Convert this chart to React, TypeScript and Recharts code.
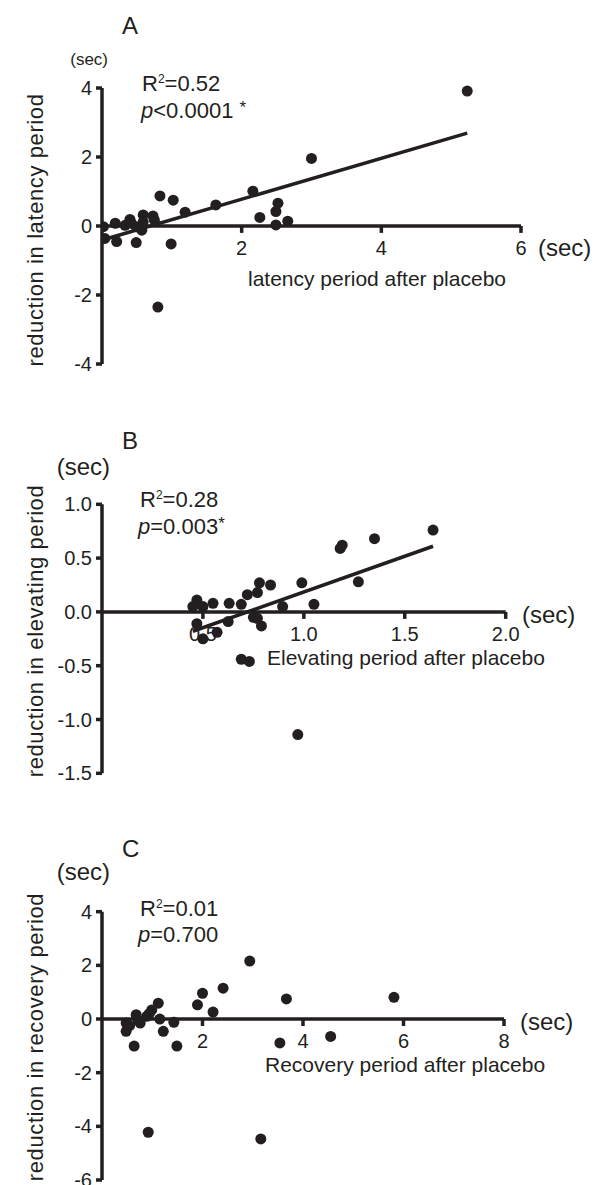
import React from 'react';
import { ScatterChart, Scatter, XAxis, YAxis, ReferenceLine } from 'recharts';

const INK = '#231f20';
const FONT = '"Liberation Sans", Arial, Helvetica, sans-serif';

// ---- Panel A: latency period ----
const latencyX = [0.02, 0.04, 0.19, 0.21, 0.33, 0.40, 0.42, 0.49, 0.49, 0.57, 0.59, 0.59, 0.73, 0.75, 0.83, 0.99, 1.02, 1.19, 1.63, 0.80, 2.16, 2.26, 2.49, 2.52, 2.49, 2.66, 3.00, 5.23];
const latencyY = [-0.02, -0.36, 0.08, -0.45, 0.02, 0.19, 0.08, -0.02, -0.48, -0.12, 0.32, 0.12, 0.29, 0.17, 0.87, -0.52, 0.75, 0.40, 0.61, -2.35, 1.01, 0.25, 0.42, 0.66, 0.03, 0.14, 1.96, 3.91];
const latencyFitX = [0.03, 5.23];
const latencyFitY = [-0.39, 2.69];
const latencyXTicks = [2, 4, 6];
const latencyYTicks = [-4, -2, 0, 2, 4];

// ---- Panel B: elevating period ----
const elevX = [0.45, 0.47, 0.50, 0.47, 0.50, 0.57, 0.55, 0.63, 0.625, 0.69, 0.72, 0.77, 0.78, 0.835, 0.75, 0.77, 0.79, 0.895, 0.69, 0.73, 0.97, 0.99, 1.05, 1.18, 1.19, 1.27, 1.35, 1.64];
const elevY = [0.05, 0.11, 0.05, -0.11, -0.25, -0.19, 0.08, 0.08, -0.09, 0.07, 0.16, 0.18, 0.27, 0.25, -0.05, -0.06, -0.13, 0.05, -0.44, -0.46, -1.14, 0.27, 0.07, 0.59, 0.62, 0.28, 0.68, 0.76];
const elevFitX = [0.45, 1.64];
const elevFitY = [-0.18, 0.61];
const elevXTicks = [0.5, 1.0, 1.5, 2.0];
const elevYTicks = [-1.5, -1.0, -0.5, 0.0, 0.5, 1.0];

// ---- Panel C: recovery period ----
const recovX = [0.48, 0.48, 0.55, 0.64, 0.68, 0.72, 0.76, 0.89, 0.94, 0.99, 1.12, 1.15, 1.22, 1.43, 1.49, 0.92, 1.90, 2.00, 2.21, 2.41, 2.94, 3.16, 3.54, 3.67, 4.55, 5.81];
const recovY = [-0.46, -0.15, -0.25, -1.01, 0.16, -0.05, -0.15, 0.10, 0.20, 0.34, 0.59, 0.00, -0.46, -0.12, -1.01, -4.22, 0.53, 0.96, 0.26, 1.15, 2.16, -4.47, -0.89, 0.75, -0.65, 0.81];
const recovXTicks = [2, 4, 6, 8];
const recovYTicks = [-6, -4, -2, 0, 2, 4];

const zip = (xs: number[], ys: number[]) => xs.map((x, i) => ({ x, y: ys[i] }));

const Dot = (p: any) => <circle cx={p.cx} cy={p.cy} r={5.5} fill={INK} />;

type PanelProps = {
  top: number;
  height: number;
  margin: { top: number; right: number; bottom: number; left: number };
  xDomain: [number, number];
  yDomain: [number, number];
  xTicks: number[];
  yTicks: number[];
  fmt: (v: number) => string;
  data: { x: number; y: number }[];
  fit?: { x: number; y: number }[];
  tickLen: number;
};

function Panel({ top, height, margin, xDomain, yDomain, xTicks, yTicks, fmt, data, fit, tickLen }: PanelProps) {
  return (
    <div style={{ position: 'absolute', left: 0, top, width: 597, height }}>
      <ScatterChart width={597} height={height} margin={margin}>
        <XAxis type="number" dataKey="x" domain={xDomain} hide allowDataOverflow />
        <YAxis
          type="number"
          dataKey="y"
          domain={yDomain}
          ticks={yTicks}
          interval={0}
          width={102}
          tickFormatter={fmt}
          axisLine={{ stroke: INK, strokeWidth: 3.5 }}
          tickLine={{ stroke: INK, strokeWidth: 3.5 }}
          tickSize={6}
          tickMargin={4}
          tick={{ fill: INK, fontSize: 20, fontFamily: FONT }}
        />
        <ReferenceLine y={0} stroke={INK} strokeWidth={3.5} />
        {xTicks.map((t) => (
          <ReferenceLine
            key={t}
            segment={[{ x: t, y: 0 }, { x: t, y: -tickLen }]}
            stroke={INK}
            strokeWidth={3.5}
            label={{ value: fmt(t), position: 'bottom', offset: 8, fill: INK, fontSize: 20, fontFamily: FONT }}
          />
        ))}
        {fit && <ReferenceLine segment={fit} stroke={INK} strokeWidth={3.5} />}
        <Scatter data={data} isAnimationActive={false} shape={Dot} />
      </ScatterChart>
    </div>
  );
}

const txt = (style: React.CSSProperties): React.CSSProperties => ({
  position: 'absolute',
  whiteSpace: 'nowrap',
  lineHeight: 1,
  fontFamily: FONT,
  color: INK,
  ...style,
});

const Sup = ({ children, size = 12, rise = -8 }: { children: React.ReactNode; size?: number; rise?: number }) => (
  <span style={{ fontSize: size, position: 'relative', top: rise }}>{children}</span>
);

const YLabel = ({ text, cy }: { text: string; cy: number }) => (
  <div
    style={txt({
      left: 36 - 160,
      top: cy - 11,
      width: 320,
      height: 22,
      fontSize: 22,
      letterSpacing: 0.6,
      textAlign: 'center',
      transform: 'rotate(-90deg)',
      transformOrigin: '50% 50%',
    })}
  >
    {text}
  </div>
);

export default function App() {
  const intFmt = (v: number) => String(v);
  const decFmt = (v: number) => v.toFixed(1);
  return (
    <div style={{ position: 'absolute', left: 0, top: 0, width: 597, height: 1185, background: '#fff', overflow: 'hidden' }}>
      <Panel
        top={0}
        height={390}
        margin={{ top: 88, right: 76, bottom: 26, left: 0 }}
        xDomain={[0, 6]}
        yDomain={[-4, 4]}
        xTicks={latencyXTicks}
        yTicks={latencyYTicks}
        fmt={intFmt}
        data={zip(latencyX, latencyY)}
        fit={zip(latencyFitX, latencyFitY)}
        tickLen={0.2}
      />
      <Panel
        top={400}
        height={390}
        margin={{ top: 104.3, right: 91.3, bottom: 16.7, left: 0 }}
        xDomain={[0, 2]}
        yDomain={[-1.5, 1.0]}
        xTicks={elevXTicks}
        yTicks={elevYTicks}
        fmt={decFmt}
        data={zip(elevX, elevY)}
        fit={zip(elevFitX, elevFitY)}
        tickLen={0.065}
      />
      <Panel
        top={800}
        height={385}
        margin={{ top: 111.7, right: 93, bottom: 5, left: 0 }}
        xDomain={[0, 8]}
        yDomain={[-6, 4]}
        xTicks={recovXTicks}
        yTicks={recovYTicks}
        fmt={intFmt}
        data={zip(recovX, recovY)}
        tickLen={0.26}
      />

      {/* Panel letters */}
      <div style={txt({ left: 122, top: 13.7, fontSize: 24 })}>A</div>
      <div style={txt({ left: 122, top: 429, fontSize: 24 })}>B</div>
      <div style={txt({ left: 122, top: 837, fontSize: 24 })}>C</div>

      {/* y unit labels */}
      <div style={txt({ right: 489, top: 50.6, fontSize: 17 })}>(sec)</div>
      <div style={txt({ right: 487, top: 454.7, fontSize: 24 })}>(sec)</div>
      <div style={txt({ right: 487, top: 859.7, fontSize: 24 })}>(sec)</div>

      {/* x unit labels */}
      <div style={txt({ left: 538, top: 235.7, fontSize: 24 })}>(sec)</div>
      <div style={txt({ left: 522, top: 602.7, fontSize: 24 })}>(sec)</div>
      <div style={txt({ left: 520, top: 1009.5, fontSize: 24 })}>(sec)</div>

      {/* x axis titles */}
      <div style={txt({ left: 248, top: 268.2, fontSize: 21 })}>latency period after placebo</div>
      <div style={txt({ left: 267, top: 647.2, fontSize: 21 })}>Elevating period after placebo</div>
      <div style={txt({ left: 265, top: 1054.2, fontSize: 21 })}>Recovery period after placebo</div>

      {/* y axis titles */}
      <YLabel text="reduction in latency  period" cy={230} />
      <YLabel text="reduction in elevating period" cy={631} />
      <YLabel text="reduction in recovery period" cy={1037} />

      {/* statistics annotations */}
      <div style={txt({ left: 142, top: 73.4, fontSize: 22 })}>R<Sup>2</Sup>=0.52</div>
      <div style={txt({ left: 141, top: 100.4, fontSize: 22 })}><i>p</i>&lt;0.0001 <Sup size={17} rise={-5}>*</Sup></div>
      <div style={txt({ left: 140, top: 489.4, fontSize: 22 })}>R<Sup>2</Sup>=0.28</div>
      <div style={txt({ left: 138, top: 516.4, fontSize: 22 })}><i>p</i>=0.003<Sup size={17} rise={-5}>*</Sup></div>
      <div style={txt({ left: 140, top: 898.4, fontSize: 22 })}>R<Sup>2</Sup>=0.01</div>
      <div style={txt({ left: 138, top: 924.4, fontSize: 22 })}><i>p</i>=0.700</div>
    </div>
  );
}
